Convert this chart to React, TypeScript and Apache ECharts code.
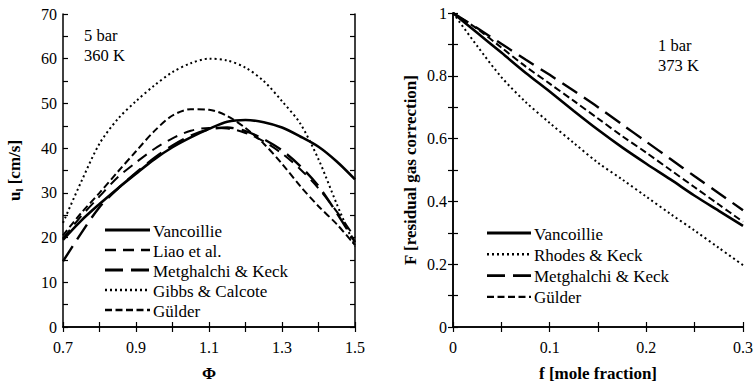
import React, { useEffect, useRef } from "react";
import * as echarts from "echarts";

// Left panel: laminar burning velocity vs equivalence ratio (5 bar, 360 K)
const phi = [0.7, 0.75, 0.8, 0.85, 0.9, 0.95, 1.0, 1.05, 1.1, 1.15, 1.2, 1.25, 1.3, 1.35, 1.4, 1.45, 1.5];
const vancoillieU = [19.5, 23.8, 27.5, 31, 34.3, 37.5, 40.2, 42.4, 44.3, 45.9, 46.3, 45.8, 44.6, 42.6, 40.3, 37, 33];
const liaoU = [19.8, 24.8, 29.2, 33.5, 36.8, 39.8, 42.2, 43.9, 44.5, 44.4, 43.4, 41.5, 38.8, 35.3, 31, 25.8, 20];
const metghalchiU = [14.7, 21, 26.8, 30.9, 34.5, 37.8, 40.6, 42.8, 44.2, 44.6, 43.8, 42, 39.5, 36, 31.5, 25.5, 19];
const gibbsU = [23.3, 32.5, 41, 46.5, 50.5, 54, 57, 59, 60, 59.6, 58, 55, 50.5, 45.5, 37.5, 27.5, 18];
const gulderU = [20.5, 25.5, 30, 34.7, 39.3, 43.8, 47.3, 48.7, 48.6, 47.2, 44.5, 41, 36.5, 31.5, 27, 23, 18.3];

// Right panel: residual gas correction factor vs mole fraction (1 bar, 373 K)
const fRes = [0, 0.025, 0.05, 0.075, 0.1, 0.125, 0.15, 0.175, 0.2, 0.225, 0.25, 0.275, 0.3];
const vancoillieF = [1, 0.937, 0.874, 0.81, 0.75, 0.688, 0.628, 0.572, 0.52, 0.47, 0.418, 0.37, 0.322];
const rhodesF = [1, 0.895, 0.796, 0.717, 0.65, 0.586, 0.523, 0.47, 0.415, 0.36, 0.307, 0.252, 0.197];
const metghalchiF = [1, 0.952, 0.902, 0.852, 0.803, 0.752, 0.7, 0.645, 0.59, 0.535, 0.48, 0.426, 0.372];
const gulderF = [1, 0.95, 0.89, 0.83, 0.775, 0.72, 0.664, 0.608, 0.555, 0.5, 0.445, 0.39, 0.335];

const leftNames = ["Vancoillie", "Liao et al.", "Metghalchi & Keck", "Gibbs & Calcote", "Gülder"];
const rightNames = ["Vancoillie", "Rhodes & Keck", "Metghalchi & Keck", "Gülder"];

const FONT = "'Liberation Serif', 'Times New Roman', serif";

const styles: Record<string, { width: number; dash: number[] | null }> = {
  "Vancoillie": { width: 2.6, dash: null },
  "Liao et al.": { width: 2, dash: [11, 7] },
  "Metghalchi & Keck": { width: 2.4, dash: [18, 8] },
  "Gibbs & Calcote": { width: 2, dash: [2, 3] },
  "Rhodes & Keck": { width: 2, dash: [2, 3] },
  "Gülder": { width: 2, dash: [7, 3.5] },
};

const pair = (xs: number[], ys: number[]) => xs.map((x, i) => [x, ys[i]]);

const legendGraphics = (names: string[], x0: number, y0: number, len: number, step: number) => {
  const out: any[] = [];
  names.forEach((n, i) => {
    const y = y0 + i * step;
    const s = styles[n];
    out.push({
      type: "line",
      silent: true,
      shape: { x1: x0, y1: y, x2: x0 + len, y2: y },
      style: { stroke: "#000", lineWidth: s.width + 0.4, lineDash: s.dash || undefined },
    });
    out.push({
      type: "text",
      silent: true,
      x: x0 + len + 3,
      y: y + 1,
      style: { text: n, fontFamily: FONT, fontSize: 17, fill: "#000", verticalAlign: "middle", align: "left" },
    });
  });
  return out;
};

export default function App() {
  const ref = useRef<HTMLDivElement>(null);
  useEffect(() => {
    if (!ref.current) return;
    const chart = echarts.init(ref.current, null, { renderer: "svg" });
    const axisLine = { show: true, lineStyle: { color: "#000", width: 1.5 } };
    const tick = { show: true, inside: true, length: 5, lineStyle: { color: "#000", width: 1.2 } };
    const lbl = { color: "#000", fontFamily: FONT, fontSize: 16 };
    const nameStyle = { color: "#000", fontFamily: FONT, fontSize: 17, fontWeight: "bold" as const };

    const mk = (name: string, xs: number[], ys: number[], idx: number) => ({
      type: "line",
      name,
      data: pair(xs, ys),
      xAxisIndex: idx,
      yAxisIndex: idx,
      showSymbol: false,
      symbol: "none",
      smooth: 0.3,
      lineStyle: { color: "#000", width: styles[name].width, type: styles[name].dash || "solid" },
      itemStyle: { color: "#000" },
      silent: true,
    });

    const option: any = {
      animation: false,
      backgroundColor: "#fff",
      textStyle: { fontFamily: FONT },
      grid: [
        { left: 63, top: 14, width: 292, height: 313 },
        { left: 453, top: 13, width: 291, height: 314 },
      ],
      xAxis: [
        {
          type: "value", gridIndex: 0, min: 0.7, max: 1.5, interval: 0.1,
          axisLine, axisTick: tick, splitLine: { show: false },
          axisLabel: {
            ...lbl, margin: 12,
            formatter: (v: number) => (Math.round(v * 10) % 2 === 1 ? v.toFixed(1) : ""),
          },
          name: "Φ", nameLocation: "middle", nameGap: 38, nameTextStyle: nameStyle,
        },
        {
          type: "value", gridIndex: 0, position: "top", min: 0.7, max: 1.5, interval: 0.1,
          axisLine, axisTick: tick, axisLabel: { show: false }, splitLine: { show: false },
        },
        {
          type: "value", gridIndex: 1, min: 0, max: 0.3, interval: 0.05,
          axisLine, axisTick: tick, splitLine: { show: false },
          axisLabel: {
            ...lbl, margin: 12,
            formatter: (v: number) => (Math.round(v * 100) % 10 === 0 ? String(Math.round(v * 10) / 10) : ""),
          },
          name: "f [mole fraction]", nameLocation: "middle", nameGap: 38, nameTextStyle: nameStyle,
        },
        {
          type: "value", gridIndex: 1, position: "top", min: 0, max: 0.3, interval: 0.05,
          axisLine, axisTick: tick, axisLabel: { show: false }, splitLine: { show: false },
        },
      ],
      yAxis: [
        {
          type: "value", gridIndex: 0, min: 0, max: 70, interval: 5,
          axisLine, axisTick: tick, splitLine: { show: false },
          axisLabel: {
            ...lbl, margin: 6,
            formatter: (v: number) => (Math.round(v) % 10 === 0 ? String(Math.round(v)) : ""),
          },
          name: "{b|u}{s|l}{b| [cm/s]}", nameLocation: "middle", nameGap: 39,
          nameTextStyle: {
            ...nameStyle,
            rich: {
              b: { fontFamily: FONT, fontSize: 17, fontWeight: "bold", color: "#000" },
              s: { fontFamily: FONT, fontSize: 11, fontWeight: "bold", color: "#000", padding: [9, 0, 0, 0] },
            },
          },
        },
        {
          type: "value", gridIndex: 0, position: "right", min: 0, max: 70, interval: 5,
          axisLine, axisTick: tick, axisLabel: { show: false }, splitLine: { show: false },
        },
        {
          type: "value", gridIndex: 1, min: 0, max: 1, interval: 0.1,
          axisLine, axisTick: tick, splitLine: { show: false },
          axisLabel: {
            ...lbl, margin: 6,
            formatter: (v: number) => (Math.round(v * 10) % 2 === 0 ? String(Math.round(v * 10) / 10) : ""),
          },
          name: "F [residual gas correction]", nameLocation: "middle", nameGap: 34,
          nameTextStyle: nameStyle,
        },
        {
          type: "value", gridIndex: 1, position: "right", min: 0, max: 1, interval: 0.1,
          axisLine, axisTick: tick, axisLabel: { show: false }, splitLine: { show: false },
        },
      ],
      graphic: [
        {
          type: "text", left: 84, top: 25,
          style: { text: "5 bar\n360 K", fontFamily: FONT, fontSize: 16.5, lineHeight: 20, fill: "#000" },
        },
        {
          type: "text", left: 658, top: 35,
          style: { text: "1 bar\n373 K", fontFamily: FONT, fontSize: 16.5, lineHeight: 20, fill: "#000" },
        },
        ...legendGraphics(leftNames, 105, 230, 45, 20),
        ...legendGraphics(rightNames, 487, 233, 44, 21.3),
      ],
      series: [
        mk("Vancoillie", phi, vancoillieU, 0),
        mk("Liao et al.", phi, liaoU, 0),
        mk("Metghalchi & Keck", phi, metghalchiU, 0),
        mk("Gibbs & Calcote", phi, gibbsU, 0),
        mk("Gülder", phi, gulderU, 0),
        mk("Vancoillie", fRes, vancoillieF, 2),
        mk("Rhodes & Keck", fRes, rhodesF, 2),
        mk("Metghalchi & Keck", fRes, metghalchiF, 2),
        mk("Gülder", fRes, gulderF, 2),
      ],
    };
    chart.setOption(option);
    return () => chart.dispose();
  }, []);
  return (
    <div
      ref={ref}
      style={{ position: "fixed", left: 0, top: 0, width: 756, height: 389, background: "#fff" }}
    />
  );
}
